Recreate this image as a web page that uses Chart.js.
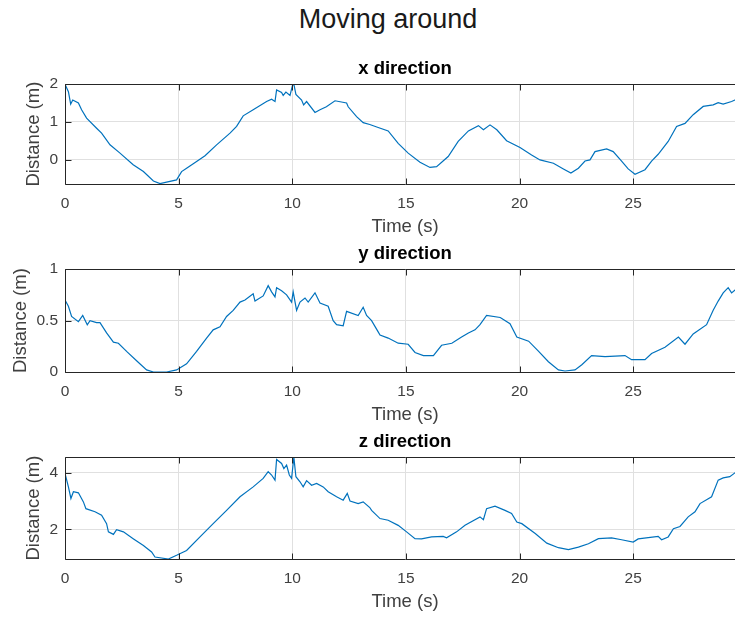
<!DOCTYPE html>
<html>
<head>
<meta charset="utf-8">
<script src="https://cdn.jsdelivr.net/npm/chart.js@4.4.1/dist/chart.umd.min.js"></script>
<style>
  html, body { margin: 0; padding: 0; overflow: hidden; background: #fff; width: 735px; height: 617px; }
  .panel { position: absolute; left: 0; }
  #mainTitle {
    position: absolute; left: 0; top: 3px; width: 776px; text-align: center;
    font: 27px "Liberation Sans", Arial, sans-serif; line-height: 32px; color: #1a1a1a;
  }
</style>
</head>
<body>
<div id="mainTitle">Moving around</div>
<div class="panel" style="top:52px"><canvas id="chartX" width="760" height="188"></canvas></div>
<div class="panel" style="top:237px"><canvas id="chartY" width="760" height="191"></canvas></div>
<div class="panel" style="top:425px"><canvas id="chartZ" width="760" height="190"></canvas></div>
<script>
// time ticks shared by all three panels
const timeTicks = [0, 5, 10, 15, 20, 25];

// x direction
const xTime = [0, 0.15, 0.25, 0.34, 0.59, 0.73, 0.95, 1.39, 1.61, 1.98, 2.42, 3.0, 3.45, 3.89, 4.18, 4.47, 4.91, 5.13, 5.35, 5.79,
  6.16, 6.67, 7.26, 7.55, 7.84, 8.28, 8.87, 9.09, 9.24, 9.31, 9.53, 9.6, 9.72, 9.9, 10.01, 10.07, 10.16, 10.41, 10.5, 10.63,
  11.0, 11.22, 11.5, 11.88, 12.39, 12.46, 12.83, 13.12, 13.41, 13.78, 14.22, 14.66, 15.1, 15.62, 16.06, 16.35, 16.86, 17.3, 17.75, 18.19,
  18.41, 18.7, 19.0, 19.43, 20.02, 20.53, 20.9, 21.49, 21.93, 22.26, 22.59, 22.88, 23.1, 23.32, 23.83, 24.12, 24.49, 24.78, 25.08, 25.52,
  25.81, 26.1, 26.54, 26.91, 27.28, 27.64, 28.08, 28.52, 28.74, 28.96, 29.33, 29.55];
const xDist = [2.0, 1.8, 1.47, 1.58, 1.5, 1.32, 1.1, 0.83, 0.7, 0.39, 0.17, -0.14, -0.32, -0.57, -0.64, -0.6, -0.54, -0.32, -0.23, -0.05,
  0.1, 0.39, 0.7, 0.88, 1.16, 1.32, 1.54, 1.6, 1.54, 1.85, 1.78, 1.7, 1.79, 1.7, 1.97, 2.0, 1.73, 1.58, 1.45, 1.54,
  1.25, 1.32, 1.4, 1.56, 1.5, 1.4, 1.14, 0.98, 0.93, 0.85, 0.76, 0.43, 0.17, -0.07, -0.21, -0.19, 0.08, 0.48, 0.76, 0.9,
  0.79, 0.92, 0.79, 0.5, 0.32, 0.12, -0.01, -0.1, -0.25, -0.36, -0.23, -0.04, -0.01, 0.21, 0.28, 0.21, -0.04, -0.25, -0.39, -0.27,
  -0.04, 0.14, 0.48, 0.88, 0.96, 1.19, 1.41, 1.45, 1.51, 1.47, 1.54, 1.6];
const xDistTicks = [0, 1, 2];

// y direction
const yTime = [0, 0.15, 0.29, 0.59, 0.78, 0.98, 1.1, 1.39, 1.54, 1.83, 2.13, 2.35, 2.71, 3.15, 3.59, 3.89, 4.47, 4.91, 5.35, 5.79,
  6.23, 6.52, 6.82, 7.11, 7.4, 7.7, 7.92, 8.28, 8.36, 8.72, 8.94, 9.09, 9.24, 9.31, 9.53, 9.75, 9.97, 10.04, 10.19, 10.34,
  10.56, 10.7, 11.0, 11.22, 11.58, 11.8, 11.95, 12.24, 12.39, 12.9, 13.12, 13.27, 13.49, 13.78, 13.86, 14.22, 14.66, 15.1, 15.4, 15.77,
  16.21, 16.57, 17.02, 17.45, 17.75, 18.04, 18.26, 18.55, 19.15, 19.58, 19.88, 20.4, 20.84, 21.27, 21.71, 22.0, 22.44, 22.74, 23.17, 23.76,
  24.64, 24.93, 25.52, 25.81, 26.4, 26.99, 27.28, 27.64, 28.23, 28.52, 28.74, 28.96, 29.18, 29.33, 29.55];
const yDist = [0.70, 0.64, 0.54, 0.49, 0.55, 0.46, 0.5, 0.48, 0.48, 0.38, 0.29, 0.28, 0.2, 0.11, 0.02, 0.0, 0.0, 0.02, 0.08, 0.2,
  0.33, 0.41, 0.44, 0.54, 0.6, 0.68, 0.7, 0.76, 0.69, 0.74, 0.84, 0.78, 0.73, 0.82, 0.79, 0.75, 0.68, 0.78, 0.6, 0.68,
  0.72, 0.68, 0.77, 0.67, 0.64, 0.5, 0.46, 0.45, 0.59, 0.55, 0.63, 0.55, 0.5, 0.39, 0.36, 0.33, 0.28, 0.27, 0.19, 0.16,
  0.16, 0.26, 0.28, 0.34, 0.38, 0.41, 0.46, 0.55, 0.53, 0.47, 0.34, 0.3, 0.2, 0.1, 0.02, 0.01, 0.02, 0.07, 0.16, 0.15,
  0.16, 0.12, 0.12, 0.18, 0.24, 0.34, 0.27, 0.37, 0.46, 0.6, 0.69, 0.77, 0.82, 0.77, 0.81];
const yDistTicks = [0, 0.5, 1];

// z direction
const zTime = [0, 0.15, 0.26, 0.37, 0.59, 0.81, 0.92, 1.32, 1.61, 1.83, 1.91, 2.13, 2.27, 2.57, 3.0, 3.45, 3.81, 3.96, 4.55, 4.91,
  5.35, 5.94, 6.52, 7.11, 7.7, 8.28, 8.72, 8.94, 9.09, 9.24, 9.31, 9.53, 9.63, 9.75, 9.87, 9.97, 10.07, 10.16, 10.34, 10.48,
  10.63, 10.85, 11.07, 11.36, 11.58, 11.95, 12.24, 12.42, 12.54, 12.9, 13.12, 13.41, 13.49, 13.86, 14.22, 14.66, 15.03, 15.4, 15.69, 16.13,
  16.64, 16.79, 17.23, 17.6, 18.26, 18.41, 18.55, 18.92, 19.36, 19.65, 19.88, 20.1, 20.69, 21.2, 21.71, 22.15, 22.59, 23.03, 23.47, 24.05,
  24.49, 25.0, 25.22, 26.1, 26.25, 26.54, 26.77, 27.06, 27.42, 27.72, 27.94, 28.45, 28.74, 28.96, 29.25, 29.55];
const zDist = [3.98, 3.5, 3.09, 3.33, 3.29, 2.97, 2.73, 2.62, 2.5, 2.2, 1.91, 1.82, 1.99, 1.91, 1.67, 1.43, 1.2, 1.02, 0.95, 1.08,
  1.25, 1.73, 2.2, 2.67, 3.15, 3.5, 3.8, 4.04, 3.92, 3.74, 4.47, 4.33, 4.15, 4.27, 3.92, 3.8, 4.55, 3.86, 3.68, 3.5,
  3.72, 3.56, 3.62, 3.5, 3.33, 3.15, 3.03, 3.27, 3.0, 2.91, 2.97, 2.77, 2.67, 2.38, 2.32, 2.14, 1.91, 1.67, 1.66, 1.73,
  1.75, 1.7, 1.91, 2.14, 2.44, 2.34, 2.73, 2.82, 2.67, 2.56, 2.26, 2.2, 1.85, 1.51, 1.35, 1.28, 1.37, 1.49, 1.67, 1.7,
  1.63, 1.55, 1.66, 1.75, 1.63, 1.73, 2.02, 2.1, 2.44, 2.62, 2.91, 3.15, 3.74, 3.82, 3.86, 4.04];
const zDistTicks = [2, 4];

const FONT = '"Liberation Sans", Arial, Helvetica, sans-serif';
const LABEL_COLOR = '#404040';
Chart.defaults.font.family = FONT;

// MATLAB-like box with inward tick marks
const boxPlugin = {
  id: 'box',
  afterDatasetsDraw(chart) {
    const { ctx, chartArea: a, scales } = chart;
    const l = Math.round(a.left) + 0.5, r = Math.round(a.right) + 0.5;
    const t = Math.round(a.top) + 0.5, b = Math.round(a.bottom) + 0.5;
    ctx.save();
    ctx.strokeStyle = '#262626';
    ctx.lineWidth = 1;
    ctx.beginPath();
    ctx.rect(l, t, r - l, b - t);
    scales.x.ticks.forEach(tk => {
      const px = Math.round(scales.x.getPixelForValue(tk.value)) + 0.5;
      ctx.moveTo(px, b); ctx.lineTo(px, b - 6);
      ctx.moveTo(px, t); ctx.lineTo(px, t + 6);
    });
    scales.y.ticks.forEach(tk => {
      const py = Math.round(scales.y.getPixelForValue(tk.value)) + 0.5;
      ctx.moveTo(l, py); ctx.lineTo(l + 6, py);
    });
    ctx.stroke();
    ctx.restore();
  }
};

function makePanel(id, title, times, dists, yMin, yMax, yTicks, yTitlePad) {
  const ctx = document.getElementById(id).getContext('2d');
  return new Chart(ctx, {
    type: 'line',
    data: {
      datasets: [{
        data: times.map((t, i) => ({ x: t, y: dists[i] })),
        borderColor: '#0072BD',
        borderWidth: 1.2,
        pointRadius: 0,
        tension: 0,
        fill: false
      }]
    },
    options: {
      responsive: false,
      animation: false,
      devicePixelRatio: 1,
      layout: { padding: { left: 0, right: 15, top: 0, bottom: 0 } },
      plugins: {
        legend: { display: false },
        tooltip: { enabled: false },
        title: {
          display: true,
          text: title,
          fullSize: false,
          color: '#000',
          font: { size: 18.5, weight: 'bold' },
          padding: { top: 6, bottom: 4 }
        }
      },
      scales: {
        x: {
          type: 'linear',
          min: 0,
          max: 29.92,
          afterBuildTicks: s => { s.ticks = timeTicks.map(v => ({ value: v })); },
          afterFit: s => { s.height = 56; },
          grid: { color: '#e0e0e0', drawTicks: false },
          border: { display: false },
          ticks: { color: LABEL_COLOR, font: { size: 15.5 }, padding: 10, maxRotation: 0, callback: v => String(v) },
          title: { display: true, text: 'Time (s)', color: LABEL_COLOR, font: { size: 18.5 }, padding: { top: 0, bottom: 2 } }
        },
        y: {
          min: yMin,
          max: yMax,
          afterBuildTicks: s => { s.ticks = yTicks.map(v => ({ value: v })); },
          afterFit: s => { s.width = 65; },
          grid: { color: '#e0e0e0', drawTicks: false },
          border: { display: false },
          ticks: { color: LABEL_COLOR, font: { size: 15.5 }, padding: 7, callback: v => String(v) },
          title: { display: true, text: 'Distance (m)', color: LABEL_COLOR, font: { size: 18.5 }, padding: { top: yTitlePad, bottom: 0 } }
        }
      }
    },
    plugins: [boxPlugin]
  });
}

makePanel('chartX', 'x direction', xTime, xDist, -0.65, 2.0, xDistTicks, 23);
makePanel('chartY', 'y direction', yTime, yDist, 0, 1, yDistTicks, 10);
makePanel('chartZ', 'z direction', zTime, zDist, 0.95, 4.55, zDistTicks, 23);
</script>
</body>
</html>
